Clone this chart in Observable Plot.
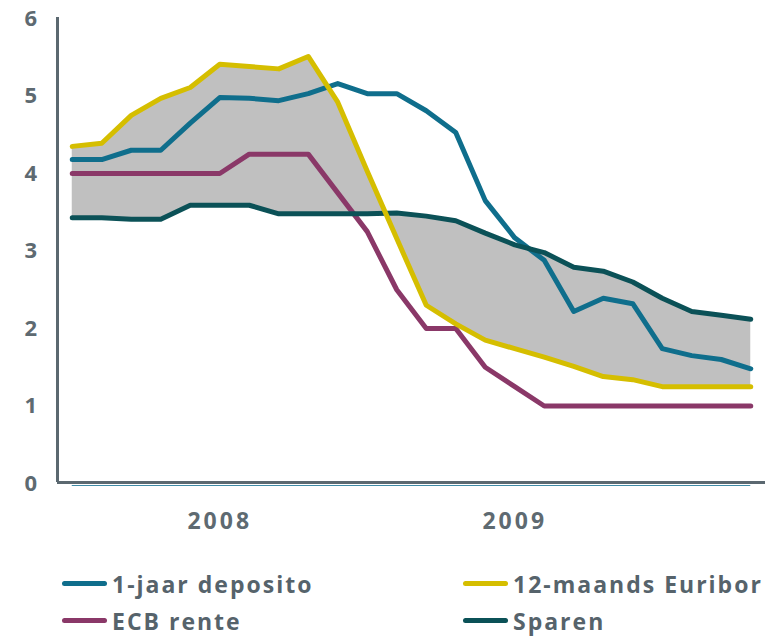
<!DOCTYPE html>
<html><head><meta charset="utf-8">
<script src="https://cdn.jsdelivr.net/npm/d3@7"></script>
<script src="https://cdn.jsdelivr.net/npm/@observablehq/plot@0.6"></script>
<style>
body{margin:0;background:#fff;font-family:"Open Sans",sans-serif;}
#chart{width:780px;height:636px;position:relative;overflow:hidden}
.legend{position:absolute;left:62px;top:565px;display:grid;grid-template-columns:401px auto;grid-auto-rows:37px;}
.item{display:flex;align-items:center;font-size:23px;font-weight:700;color:#56636b;letter-spacing:2px;white-space:nowrap}
.sw{width:45px;height:5px;border-radius:3px;margin-right:5px}
</style></head>
<body><div id="chart"></div>
<script>
// monthly index, Jan 2008 .. Dec 2009
const maanden = d3.range(24);
const deposito = [4.18,4.18,4.30,4.30,4.65,4.98,4.97,4.94,5.03,5.16,5.03,5.03,4.81,4.53,3.65,3.17,2.88,2.22,2.39,2.32,1.74,1.65,1.60,1.48];
const euribor  = [4.35,4.39,4.75,4.97,5.11,5.41,5.38,5.35,5.51,4.92,4.03,3.16,2.30,2.06,1.85,1.74,1.63,1.51,1.38,1.34,1.25,1.25,1.25,1.25];
const ecb      = [4.00,4.00,4.00,4.00,4.00,4.00,4.25,4.25,4.25,3.75,3.25,2.50,2.00,2.00,1.50,1.25,1.00,1.00,1.00,1.00,1.00,1.00,1.00,1.00];
const sparen   = [3.43,3.43,3.41,3.41,3.59,3.59,3.59,3.48,3.48,3.48,3.48,3.49,3.45,3.39,3.23,3.08,2.98,2.79,2.74,2.60,2.39,2.22,2.17,2.12];
const yTicks = [0,1,2,3,4,5,6];
const yearTickPos = [5,15];
const yearLabels = ["2008","2009"];
const seriesNames = ["1-jaar deposito","12-maands Euribor","ECB rente","Sparen"];
const seriesColors = ["#0f6e8c","#d5be00","#8a3868","#0b5157"];

const rows = maanden.map((m,i)=>({m, deposito:deposito[i], euribor:euribor[i], ecb:ecb[i], sparen:sparen[i]}));
const axisColor = "#5b6870";
const textColor = "#5e6a71";
const lineOpts = (key, color) => ({x:"m", y:key, stroke:color, strokeWidth:5, strokeLinecap:"round", strokeLinejoin:"round"});

const plot = Plot.plot({
  width:780, height:560,
  marginLeft:57, marginRight:15, marginTop:18, marginBottom:77,
  style:{fontFamily:"'Open Sans', sans-serif", background:"transparent"},
  x:{domain:[-0.5,23.5], label:null},
  y:{domain:[0,6], label:null},
  marks:[
    Plot.areaY(rows,{x:"m", y1:"euribor", y2:"sparen", fill:"#c0c0c0"}),
    Plot.ruleY([0],{x1:0, x2:23, stroke:"#3f8aa6", strokeWidth:1, dy:2}),
    Plot.lineY(rows, lineOpts("deposito", seriesColors[0])),
    Plot.lineY(rows, lineOpts("ecb", seriesColors[2])),
    Plot.lineY(rows, lineOpts("sparen", seriesColors[3])),
    Plot.lineY(rows, lineOpts("euribor", seriesColors[1])),
    Plot.ruleX([-0.5],{y1:0, y2:6, stroke:axisColor, strokeWidth:3, dy:-1}),
    Plot.ruleY([0],{stroke:axisColor, strokeWidth:3, dy:-1}),
    Plot.axisY({ticks:yTicks, tickSize:0, tickPadding:19, fontSize:22, fontWeight:"bold", fill:textColor, label:null, tickFormat:d=>String(d)}),
    Plot.axisX({ticks:yearTickPos, tickSize:0, tickPadding:29, fontSize:23, fontWeight:"bold", fill:textColor, label:null, tickFormat:(d)=>yearLabels[yearTickPos.indexOf(d)]})
  ]
});
plot.style.position="absolute"; plot.style.left="0"; plot.style.top="0";
plot.querySelectorAll("g[aria-label='y-axis tick label'] text").forEach(t=>t.setAttribute("letter-spacing","1.5"));
plot.querySelectorAll("g[aria-label='x-axis tick label'] text").forEach(t=>t.setAttribute("letter-spacing","3"));
const chart = document.getElementById("chart");
chart.appendChild(plot);

const legend = document.createElement("div");
legend.className = "legend";
seriesNames.forEach((name,i)=>{
  const it = document.createElement("div"); it.className="item";
  const sw = document.createElement("span"); sw.className="sw"; sw.style.background=seriesColors[i];
  it.appendChild(sw); it.appendChild(document.createTextNode(name));
  legend.appendChild(it);
});
chart.appendChild(legend);
</script>
</body></html>
